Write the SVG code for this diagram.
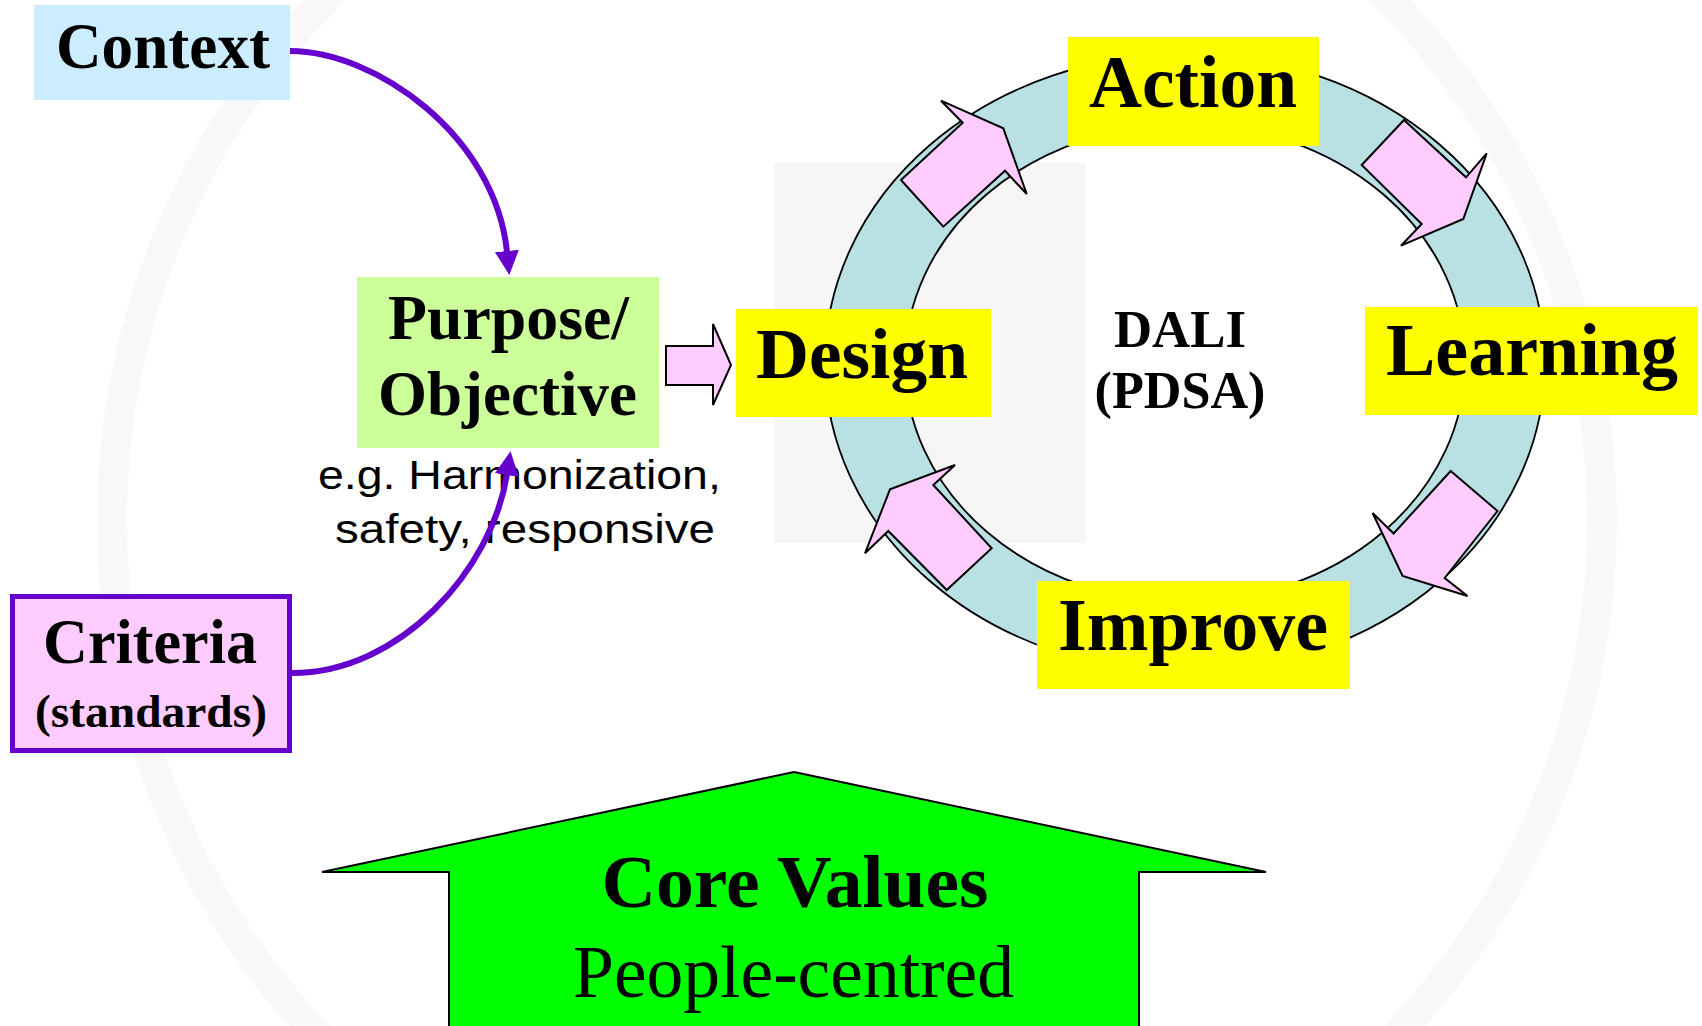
<svg xmlns="http://www.w3.org/2000/svg" width="1702" height="1026" viewBox="0 0 1702 1026">
<style>
.bs{font-family:"Liberation Serif","Times New Roman",serif;font-weight:bold;fill:#000;text-anchor:middle}
.rs{font-family:"Liberation Serif","Times New Roman",serif;font-weight:normal;fill:#000;text-anchor:middle}
.ss{font-family:"Liberation Sans",Arial,sans-serif;fill:#000;text-anchor:middle}
.yel{fill:#FFFF00}
.pk{fill:#FFCCFF;stroke:#000;stroke-width:2;stroke-linejoin:miter}
.con{fill:none;stroke:#6600CC;stroke-width:6}
</style>
<defs>
<marker id="ah" markerUnits="userSpaceOnUse" markerWidth="24" markerHeight="24" viewBox="0 0 24 24" refX="1" refY="12" orient="auto">
<path d="M0,0 L24,12 L0,24 Z" fill="#6600CC"/>
</marker>
</defs>
<rect x="0" y="0" width="1702" height="1026" fill="#FFFFFF"/>
<g id="watermark">
<rect x="774" y="163" width="312" height="380" fill="#F6F6F6"/>
<circle cx="857" cy="521" r="745" fill="none" stroke="#F8F8F8" stroke-width="30"/>
</g>
<g id="ring">
<path d="M825,363 a360,309 0 1,0 720,0 a360,309 0 1,0 -720,0 Z M905,363 a280,239 0 1,0 560,0 a280,239 0 1,0 -560,0 Z" fill="#B9E0E3" fill-rule="evenodd" stroke="#000" stroke-width="1.8"/>
</g>
<g id="cycle-arrows">
<polygon class="pk" points="901,180 962.7,122.7 941,100.7 1003.3,128.3 1026.7,194 1005,170.7 943.3,226.7"/>
<polygon class="pk" points="1404,120 1466,177.3 1486.7,153.3 1463.3,219 1401,245.7 1421.7,224 1361.7,165"/>
<polygon class="pk" points="1450.7,471 1497.5,511 1444.7,578 1467.5,596 1402.6,576 1372.6,513 1393.6,533.5"/>
<polygon class="pk" points="955,465 933.3,485 991.7,548.3 946.7,590 888.3,531 865,553.3 890,489.3"/>
</g>
<g id="context">
<rect x="34" y="5" width="256" height="95" fill="#CCECFF"/>
<text class="bs" x="163" y="68" font-size="66" textLength="214" lengthAdjust="spacingAndGlyphs">Context</text>
</g>
<g id="purpose">
<rect x="357" y="277" width="302" height="171" fill="#CCFF99"/>
<text class="bs" x="508.5" y="339" font-size="64" textLength="241" lengthAdjust="spacingAndGlyphs">Purpose/</text>
<text class="bs" x="507.5" y="415" font-size="64" textLength="259" lengthAdjust="spacingAndGlyphs">Objective</text>
</g>
<g id="purpose-note">
<text class="ss" x="519.4" y="489" font-size="40" textLength="403" lengthAdjust="spacingAndGlyphs">e.g. Harmonization,</text>
<text class="ss" x="525" y="543" font-size="40" textLength="380" lengthAdjust="spacingAndGlyphs">safety, responsive</text>
</g>
<g id="to-design-arrow">
<polygon class="pk" points="666,346 713,346 713,324 731,365 713,405 713,385 666,385"/>
</g>
<g id="design">
<rect class="yel" x="736" y="309" width="255" height="108"/>
<text class="bs" x="862" y="378" font-size="72" textLength="212" lengthAdjust="spacingAndGlyphs">Design</text>
</g>
<g id="action">
<rect class="yel" x="1068" y="37" width="251" height="109"/>
<text class="bs" x="1193" y="107" font-size="74" textLength="208" lengthAdjust="spacingAndGlyphs">Action</text>
</g>
<g id="learning">
<rect class="yel" x="1365" y="307" width="333" height="108"/>
<text class="bs" x="1532" y="375" font-size="74" textLength="292" lengthAdjust="spacingAndGlyphs">Learning</text>
</g>
<g id="improve">
<rect class="yel" x="1037" y="581" width="313" height="108"/>
<text class="bs" x="1193" y="650" font-size="73" textLength="270" lengthAdjust="spacingAndGlyphs">Improve</text>
</g>
<g id="dali">
<text class="bs" x="1180" y="347" font-size="52" textLength="132" lengthAdjust="spacingAndGlyphs">DALI</text>
<text class="bs" x="1180" y="408" font-size="52" textLength="171" lengthAdjust="spacingAndGlyphs">(PDSA)</text>
</g>
<g id="criteria">
<rect x="12.5" y="596.5" width="277" height="154" fill="#FFCCFF" stroke="#6600CC" stroke-width="5"/>
<text class="bs" x="150" y="663" font-size="64" textLength="214" lengthAdjust="spacingAndGlyphs">Criteria</text>
<text class="bs" x="151" y="727" font-size="46" textLength="232" lengthAdjust="spacingAndGlyphs">(standards)</text>
</g>
<g id="core-values">
<polygon points="794,772 1266,872 1139,872 1139,1030 449,1030 449,872 322,872" fill="#00FF00" stroke="#000" stroke-width="2"/>
<text class="bs" x="795" y="907" font-size="75" textLength="387" lengthAdjust="spacingAndGlyphs">Core Values</text>
<text class="rs" x="793.5" y="997" font-size="74" textLength="441" lengthAdjust="spacingAndGlyphs">People-centred</text>
</g>
<g id="connectors">
<path class="con" d="M290,51 C375,51 495,135 507,252" marker-end="url(#ah)"/>
<path class="con" d="M292,673 C400,673 492,570 507,474" marker-end="url(#ah)"/>
</g>
</svg>
